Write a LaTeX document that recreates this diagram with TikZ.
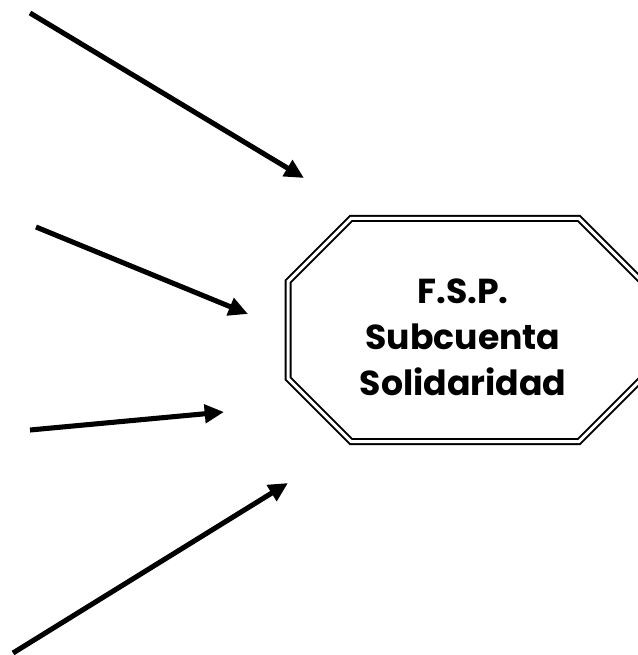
\documentclass[tikz,border=0pt]{standalone}
\usepackage{fontspec}
\setmainfont{Poppins}
\usetikzlibrary{arrows.meta}

\begin{document}
\begin{tikzpicture}[x=0.75pt, y=-0.75pt,
	>={Triangle[length=14.5pt,width=13.5pt]},
	flow/.style={->, line width=3.8pt},
	octagon/.style={line width=1.5pt, double, double distance=2.25pt},
	label/.style={align=center, font=\bfseries\fontsize{26}{34.5}\selectfont}]
	\useasboundingbox (0,0) rectangle (637,655);

	% Octagon {fsp}
	\draw [octagon] (351,218.5) -- (579,218.5) -- (642,281.5) -- (642,378.5)
		-- (579,441.5) -- (351,441.5) -- (288,378.5) -- (288,281.5) -- cycle;
	\node [label] 	(fsp) 	at (463,337) 	{F.S.P.\\Subcuenta\\Solidaridad};

	% Ends of the arrows
	\coordinate (a1) at (30,13);	\coordinate (b1) at (304,178);
	\coordinate (a2) at (36,227);	\coordinate (b2) at (248,314);
	\coordinate (a3) at (30,430);	\coordinate (b3) at (224,412);
	\coordinate (a4) at (13,653);	\coordinate (b4) at (288,483);

	% Paths
	\path [flow] 	(a1) edge 	(b1);
	\path [flow] 	(a2) edge 	(b2);
	\path [flow] 	(a3) edge 	(b3);
	\path [flow] 	(a4) edge 	(b4);

\end{tikzpicture}
\end{document}
